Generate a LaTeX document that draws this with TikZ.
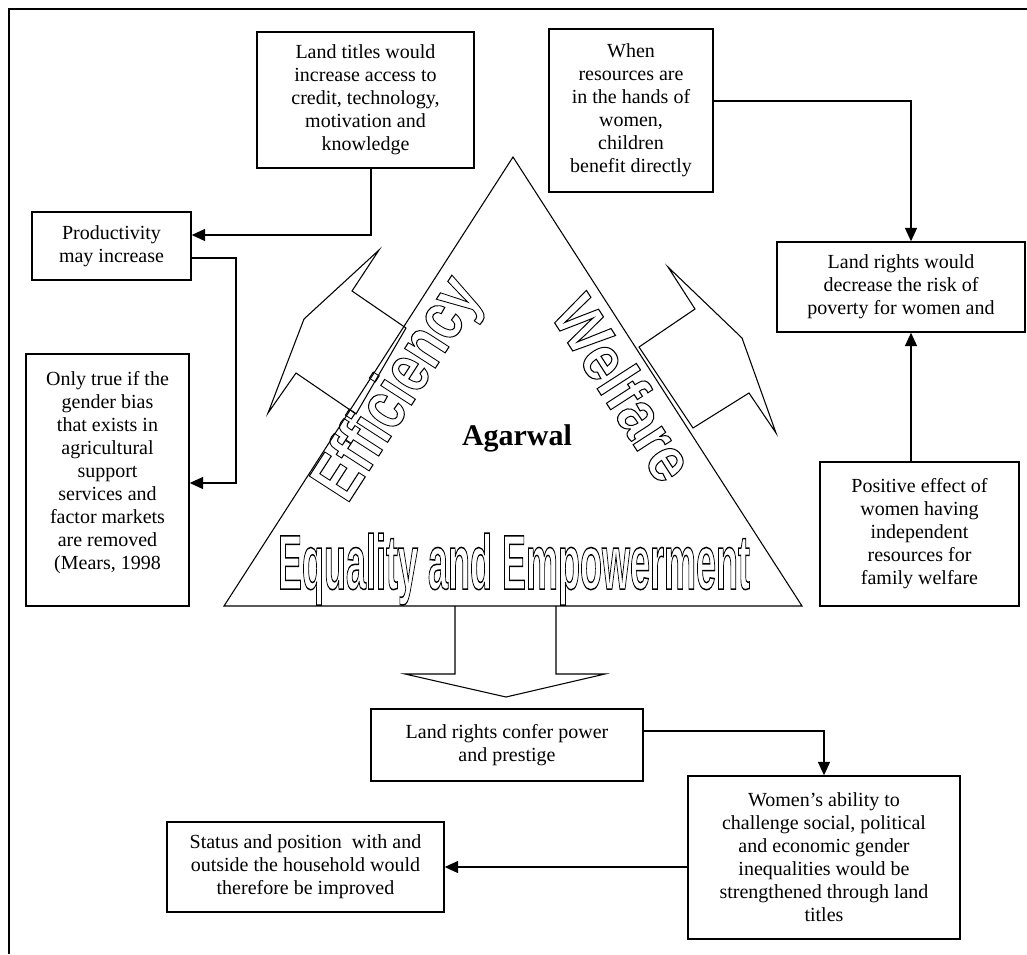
\documentclass[tikz,border=0pt]{standalone}
\usepackage{fontspec}
\setmainfont{Liberation Serif}
\setsansfont{Liberation Sans}
\usetikzlibrary{arrows.meta}
\newcommand{\hollow}[2]{\special{pdf:literal direct #1 w 1 Tr}#2\special{pdf:literal direct 0 Tr}}
\begin{document}
\begin{tikzpicture}[x=0.75pt,y=-0.75pt,
  box/.style={draw, line width=1.1pt, inner sep=0pt, align=center,
    font=\fontsize{15}{17.25}\selectfont},
  conn/.style={line width=0.95pt, -{Triangle[length=10pt,width=9pt]}},
  shapeline/.style={line width=0.8pt, line join=miter},
  frameline/.style={line width=1.3pt},
  wordart/.style={inner sep=0pt}]
\useasboundingbox (0,0) rectangle (1027,954);

% frame
\draw[frameline] (1027,9) -- (9,9) -- (9,954);

% word art texts
\node[wordart, rotate=57.2] (eff) at (400,390)
  {\hollow{0.8}{\resizebox{187.5pt}{37.5pt}{\fontsize{51}{51}\sffamily\bfseries Efficiency}}};
\node[wordart, rotate=-57.2] (wel) at (624,388)
  {\hollow{0.8}{\resizebox{153.75pt}{35pt}{\fontsize{47}{47}\sffamily\bfseries Welfare}}};
\node[wordart, anchor=base] (eq) at (514,589)
  {\hollow{1.1}{\resizebox{354pt}{42pt}{\fontsize{57}{57}\sffamily\bfseries Equality and Empowerment}}};

% triangle
\draw[shapeline] (513,157) -- (802,606) -- (224,606) -- cycle;

% block arrows on the sides
\draw[shapeline] (406,328) -- (352,291) -- (379,250) -- (304,319) -- (268,413)
  -- (296,373) -- (356,414) -- cycle;
\draw[shapeline] (639,347) -- (695,309) -- (668,267) -- (742,338) -- (776,433)
  -- (749,393) -- (693,428) -- cycle;
% block arrow down
\draw[shapeline] (455,606) -- (455,674) -- (405,674) -- (506,697) -- (605,674)
  -- (556,674) -- (556,606);

\node[anchor=base, font=\fontsize{22.5}{27}\selectfont\bfseries] (ag) at (517,445) {Agarwal};

% boxes
\node[box, minimum width=162.75pt, minimum height=102pt] (B1) at (365.5,100)
  {Land titles would\\increase access to\\credit, technology,\\motivation and\\knowledge};
\node[box, minimum width=119.25pt, minimum height=51pt] (B2) at (111.5,246)
  {Productivity\\may increase};
\node[box, minimum width=122.25pt, minimum height=189pt] (B3) at (107.5,480)
  {Only true if the\\gender bias\\that exists in\\agricultural\\support\\services and\\factor markets\\are removed\\(Mears, 1998\\[-3pt]\mbox{}};
\node[box, minimum width=123pt, minimum height=122.25pt] (B4) at (631,110.5)
  {When\\resources are\\in the hands of\\women,\\children\\benefit directly};
\node[box, minimum width=186pt, minimum height=67.5pt] (B5) at (901,287)
  {Land rights would\\decrease the risk of\\poverty for women and};
\node[box, minimum width=149.25pt, minimum height=108pt] (B6) at (919.5,534)
  {Positive effect of\\women having\\independent\\resources for\\family welfare};
\node[box, minimum width=204pt, minimum height=54pt] (B7) at (507,745)
  {Land rights confer power\\and prestige};
\node[box, minimum width=204pt, minimum height=122.25pt] (B8) at (824,857.5)
  {Women’s ability to\\challenge social, political\\and economic gender\\inequalities would be\\strengthened through land\\titles};
\node[box, minimum width=207.75pt, minimum height=67.5pt] (B9) at (305.5,867)
  {Status and position \ with and\\outside the household would\\therefore be improved};

% connectors
\draw[conn] (B1.south -| 371,0) |- (B2.east |- 0,235);
\draw[conn] (B2.east |- 0,258) -- (236,258) |- (B3.east |- 0,483);
\draw[conn] (B4.east |- 0,101) -| (B5.north -| 911,0);
\draw[conn] (B6.north -| 911,0) -- (B5.south -| 911,0);
\draw[conn] (B7.east |- 0,731) -| (B8.north);
\draw[conn] (B8.west |- B9.east) -- (B9.east);
\end{tikzpicture}
\end{document}
